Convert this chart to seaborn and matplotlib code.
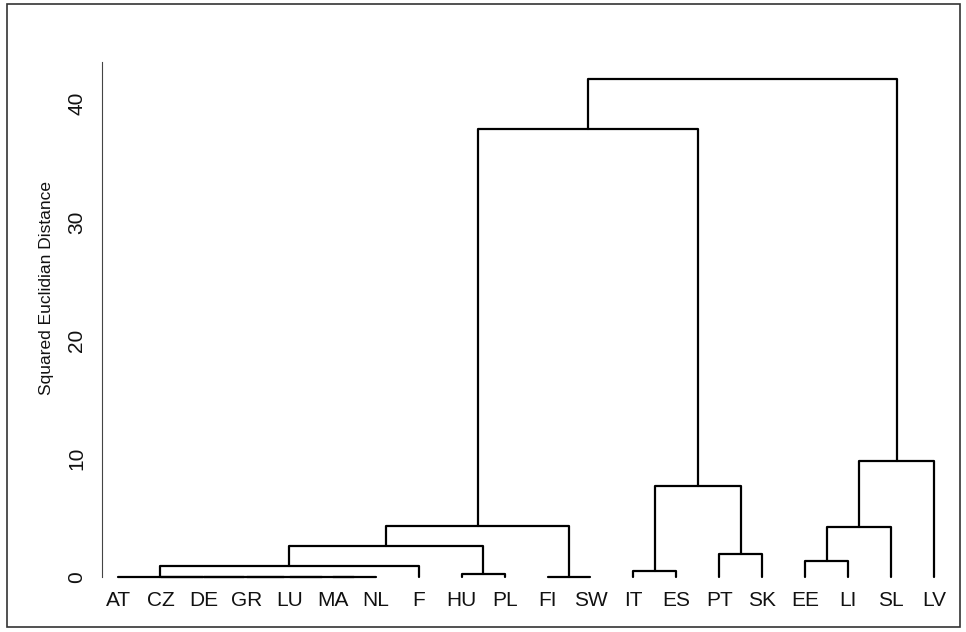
import numpy as np
import pandas as pd
import matplotlib
matplotlib.use("Agg")
import matplotlib.pyplot as plt
from matplotlib.patches import Rectangle
import seaborn as sns

# leaves in dendrogram order
countries = ["AT", "CZ", "DE", "GR", "LU", "MA", "NL", "F", "HU", "PL",
             "FI", "SW", "IT", "ES", "PT", "SK", "EE", "LI", "SL", "LV"]

# linkage: new cluster ids start at len(countries)
merge_left = [5, 4, 3, 2, 1, 0, 10, 8, 12, 25, 16, 14, 29, 30, 32, 28, 33, 34, 37]
merge_right = [6, 20, 21, 22, 23, 24, 11, 9, 13, 7, 17, 15, 27, 18, 26, 31, 19, 35, 36]
merge_height = [0, 0, 0, 0, 0, 0, 0, 0.28, 0.5, 0.95, 1.35, 1.95, 2.6, 4.25, 4.35,
                7.7, 9.8, 37.8, 42.1]

y_ticks = [0, 10, 20, 30, 40]


def build_segments(leaves, left, right, height):
    """Turn the linkage into U-shaped connector lines."""
    n = len(leaves)
    pos = {i: i + 1.0 for i in range(n)}
    hgt = {i: 0.0 for i in range(n)}
    rows = []
    for k, (a, b, h) in enumerate(zip(left, right, height)):
        xa, xb = pos[a], pos[b]
        pts = [(xa, hgt[a]), (xa, h), (xb, h), (xb, hgt[b])]
        for j, (x, y) in enumerate(pts):
            rows.append({"link": k, "order": j, "x": x, "y": y})
        pos[n + k] = (xa + xb) / 2
        hgt[n + k] = h
    return pd.DataFrame(rows)


seg_df = build_segments(countries, merge_left, merge_right, merge_height)

sns.set_style("white")
plt.rcParams["font.family"] = ["Liberation Sans", "DejaVu Sans"]

fig = plt.figure(figsize=(9.66, 6.32), dpi=100)
ax = fig.add_axes([102 / 966, 55 / 632, 848 / 966, 515 / 632])

sns.lineplot(data=seg_df, x="x", y="y", units="link", estimator=None,
             sort=False, color="black", linewidth=1.6, ax=ax, clip_on=False)

ax.set_xlim(0.627, 20.37)
ax.set_ylim(0, 43.5)

ax.set_xticks(np.arange(1, len(countries) + 1), countries)
ax.tick_params(axis="x", length=0, pad=10, labelsize=15, colors="#111111")

ax.set_yticks(y_ticks, [str(t) for t in y_ticks])
ax.tick_params(axis="y", direction="out", length=6.5, width=0.8,
               color="#444444", pad=5, labelsize=15, labelrotation=90,
               labelcolor="#111111")
for lab in ax.get_yticklabels():
    lab.set_va("center")

ax.set_xlabel("")
ax.set_ylabel("Squared Euclidian Distance", fontsize=12.5, color="#111111")
ax.yaxis.set_label_coords(-0.057, (577 - 288) / 515)

sns.despine(ax=ax, left=False, bottom=True)
ax.spines["left"].set_color("#444444")
ax.spines["left"].set_linewidth(0.8)

# outer graph-region border
fig.patches.append(Rectangle((7 / 966, 5 / 632), 953 / 966, 623 / 632,
                             transform=fig.transFigure, fill=False,
                             edgecolor="#333333", linewidth=1.2))

fig.savefig("out.png", dpi=100)
